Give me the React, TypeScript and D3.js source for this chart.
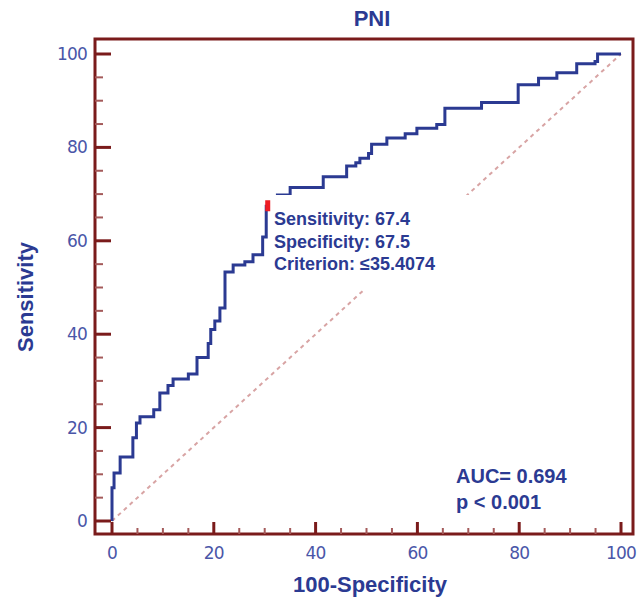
import React from 'react';
import * as d3 from 'd3';

// ROC corner points (100-specificity, sensitivity)
const fpr = [0, 0, 0.4, 1.6, 4.1, 4.8, 5.5, 8.2, 9.4, 11, 12, 15, 16.7, 18.9, 19.4, 20.2, 21.2, 22.2, 23.8, 26.1, 27.7, 29.6, 30.3, 32.5, 35, 41.5, 46.1, 47.9, 48.7, 50.4, 51, 54, 57.6, 59.9, 63.8, 65.4, 72.6, 79.8, 83.8, 87.4, 91.3, 94.9, 95.4, 100];
const tpr = [0, 7.1, 10.3, 13.7, 17.8, 21, 22.3, 23.8, 27.4, 29, 30.4, 31.5, 35, 38, 41, 42.8, 45.6, 53.3, 54.8, 55.5, 57, 60.8, 67.4, 69.8, 71.4, 73.7, 76, 76.7, 77.7, 78.7, 80.7, 82, 82.9, 84.1, 84.9, 88.4, 89.6, 93.4, 94.8, 96, 97.9, 98.4, 100, 100];

const majorTicks = [0, 20, 40, 60, 80, 100];
const minorTicks = d3.range(0, 101, 5).filter((v) => v % 20 !== 0);

const criterion = { x: 30.3, y: 67.4 };
const infoLines = ['Sensitivity: 67.4', 'Specificity: 67.5', 'Criterion: \u226435.4074'];
const statLines = ['AUC= 0.694', 'p < 0.001'];

const W = 641;
const H = 603;
const frame = { left: 95, top: 39, right: 633, bottom: 534 };

const darkRed = '#7a1b1b';
const navy = '#2b3a92';
const tickBlue = '#4a56a8';

export default function App() {
  const x = d3.scaleLinear().domain([0, 100]).range([112, 621]);
  const y = d3.scaleLinear().domain([0, 100]).range([521, 54]);

  const pts = fpr.map((v, i) => [v, tpr[i]] as [number, number]);
  const rocPath = d3
    .line<[number, number]>()
    .x((d) => x(d[0]))
    .y((d) => y(d[1]))
    .curve(d3.curveStepAfter)(pts) as string;

  const boldFont = '"Liberation Sans", Arial, sans-serif';
  const tickFont = '"DejaVu Sans", Verdana, sans-serif';

  return (
    <svg width={W} height={H} style={{ position: 'absolute', left: 0, top: 0 }}>
      <rect width={W} height={H} fill="#fff" />

      {/* chance line */}
      <line
        x1={x(0)}
        y1={y(0)}
        x2={x(100)}
        y2={y(100)}
        stroke="#d8a4a4"
        strokeWidth={2}
        strokeDasharray="4,4"
      />

      <path d={rocPath} fill="none" stroke={navy} strokeWidth={3} />

      {/* annotation box hides what is under it */}
      <rect x={269} y={195} width={200} height={95} fill="#fff" />
      <rect x={x(criterion.x) - 1} y={y(criterion.y) - 6} width={5} height={11} fill="#ee1c24" />
      {infoLines.map((t, i) => (
        <text
          key={t}
          x={274}
          y={225 + i * 22.5}
          fill={navy}
          fontFamily={boldFont}
          fontWeight="bold"
          fontSize={18}
        >
          {t}
        </text>
      ))}

      {statLines.map((t, i) => (
        <text
          key={t}
          x={456}
          y={483 + i * 26}
          fill={navy}
          fontFamily={boldFont}
          fontWeight="bold"
          fontSize={20}
        >
          {t}
        </text>
      ))}

      {/* frame */}
      <rect
        x={frame.left}
        y={frame.top}
        width={frame.right - frame.left}
        height={frame.bottom - frame.top}
        fill="none"
        stroke={darkRed}
        strokeWidth={3}
      />

      {/* y ticks */}
      {majorTicks.map((v) => (
        <g key={'ym' + v}>
          <line x1={frame.left} x2={frame.left + 16} y1={y(v)} y2={y(v)} stroke={darkRed} strokeWidth={3} />
          <text
            x={87}
            y={y(v)}
            dy="0.35em"
            textAnchor="end"
            fill={tickBlue}
            fontFamily={tickFont}
            fontSize={17}
            letterSpacing={-0.8}
          >
            {v}
          </text>
        </g>
      ))}
      {minorTicks.map((v) => (
        <line key={'yn' + v} x1={frame.left} x2={frame.left + 8} y1={y(v)} y2={y(v)} stroke="#a45a5a" strokeWidth={2} />
      ))}

      {/* x ticks */}
      {majorTicks.map((v) => (
        <g key={'xm' + v}>
          <line x1={x(v)} x2={x(v)} y1={frame.bottom} y2={frame.bottom - 12} stroke={darkRed} strokeWidth={3} />
          <text
            x={x(v)}
            y={553}
            dy="0.35em"
            textAnchor="middle"
            fill={tickBlue}
            fontFamily={tickFont}
            fontSize={17}
            letterSpacing={-0.8}
          >
            {v}
          </text>
        </g>
      ))}
      {minorTicks.map((v) => (
        <line key={'xn' + v} x1={x(v)} x2={x(v)} y1={frame.bottom} y2={frame.bottom - 6} stroke="#a45a5a" strokeWidth={2} />
      ))}

      {/* titles */}
      <text x={372} y={26} textAnchor="middle" fill={navy} fontFamily={boldFont} fontWeight="bold" fontSize={22}>
        PNI
      </text>
      <text x={370} y={592} textAnchor="middle" fill={navy} fontFamily={boldFont} fontWeight="bold" fontSize={22}>
        100-Specificity
      </text>
      <text
        transform="translate(33,297) rotate(-90)"
        textAnchor="middle"
        fill={navy}
        fontFamily={boldFont}
        fontWeight="bold"
        fontSize={22}
      >
        Sensitivity
      </text>
    </svg>
  );
}
